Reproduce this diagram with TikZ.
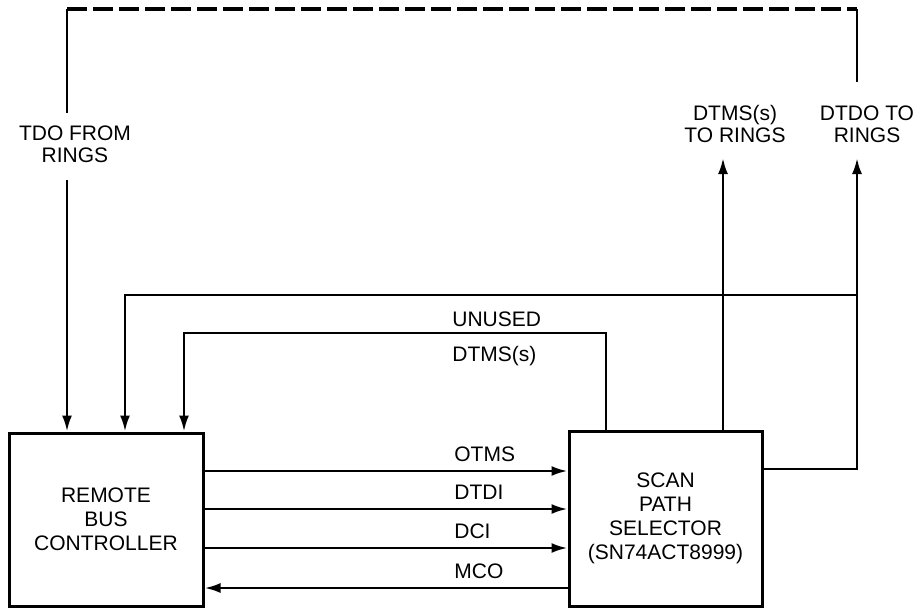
\documentclass[tikz,border=0pt]{standalone}
\usepackage{fontspec}
\setmainfont{Liberation Sans}
\usetikzlibrary{arrows.meta}
\tikzset{
	box/.style={draw, line width=1.5pt, minimum width=97pt, minimum height=86.5pt,
		align=center, font=\fontsize{10.5}{12}\selectfont},
	sig/.style={line width=1.3pt},
	sigarrow/.style={-{Latex[length=8pt,width=5pt]}},
	lbl/.style={inner sep=0pt, align=center, font=\fontsize{10.5}{11}\selectfont},
}
\begin{document}
\begin{tikzpicture}[x=0.5pt, y=-0.5pt]
	\useasboundingbox (0,0) rectangle (915,607);
	% Bausteine
	\node[box] (rbc) at (106,519.5) {REMOTE\\BUS\\CONTROLLER};
	\node[box, minimum width=96.5pt, minimum height=87.5pt] (sps) at (665.5,518.5)
		{SCAN\\PATH\\SELECTOR\\(SN74ACT8999)};
	% Beschriftungen oben
	\node[lbl] (tdo) at (75,144) {TDO FROM\\RINGS};
	\node[lbl] (dtms) at (735,124) {DTMS(s)\\TO RINGS};
	\node[lbl] (dtdo) at (867,124) {DTDO TO\\RINGS};
	\coordinate (topl) at (67,9);
	\coordinate (topr) at (857,9);
	\coordinate (jct) at (857,295);
	% Ruecklauf von den Ringen
	\draw[sig, line width=1.6pt, dash pattern=on 10pt off 3pt] (topl) -- (topr);
	\draw[sig] (topl) -- (67,113);
	\draw[sig, sigarrow] (67,180) -- (rbc.north -| 67,0);
	\draw[sig] (topr) -- (857,82);
	% Leitungen zu den Ringen
	\draw[sig, sigarrow] (sps.north -| 723,0) -- (723,158);
	\draw[sig, sigarrow] (sps.east |- 0,469) -| (857,158);
	\draw[sig, sigarrow] (jct) -| (rbc.north -| 125,0);
	% UNUSED / DTMS(s)
	\draw[sig, sigarrow] (sps.north -| 606,0) -- (606,333) -| (rbc.north -| 184,0);
	\node[lbl, anchor=west] (unused) at (452,319) {UNUSED};
	\node[lbl, anchor=west] (dtmsin) at (452,356) {DTMS(s)};
	% Signale zwischen den Bausteinen
	\foreach \y/\sname in {471/OTMS, 509/DTDI, 548/DCI} {
		\draw[sig, sigarrow] (rbc.east |- 0,\y) -- (sps.west |- 0,\y);
		\node[lbl, anchor=west] at (454,\y-17) {\sname};
	}
	\draw[sig, sigarrow] (sps.west |- 0,588) -- (rbc.east |- 0,588);
	\node[lbl, anchor=west] (mco) at (454,571) {MCO};
\end{tikzpicture}
\end{document}
